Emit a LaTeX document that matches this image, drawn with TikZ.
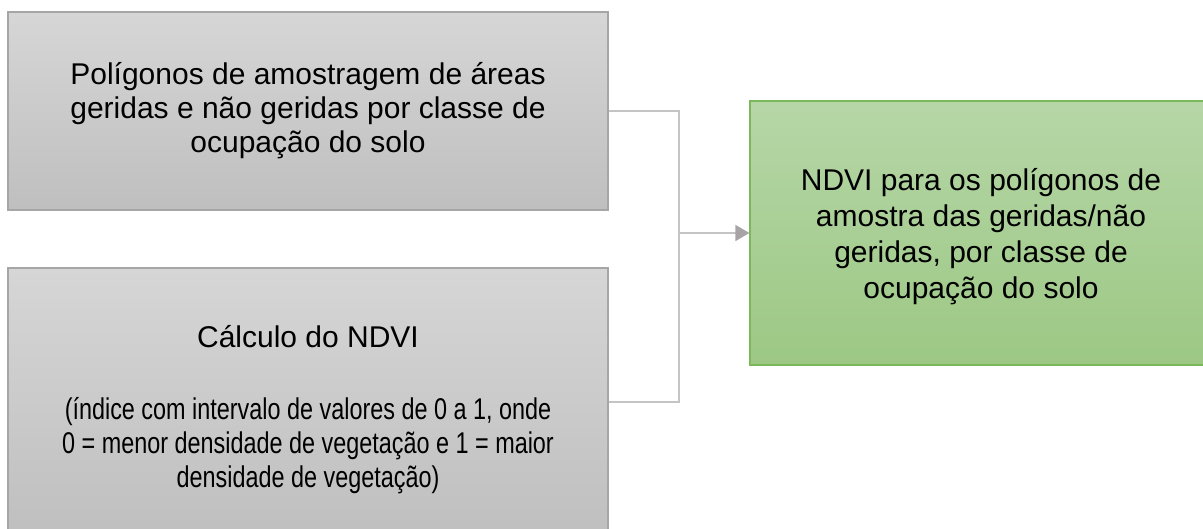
\documentclass[tikz,border=0pt]{standalone}
\usepackage{fontspec}
\setmainfont{Liberation Sans}
\newfontfamily\condfont[FakeStretch=0.78]{Liberation Sans}
\usetikzlibrary{arrows.meta}
\definecolor{grayTop}{HTML}{D6D6D6}
\definecolor{grayBot}{HTML}{BFBFBF}
\definecolor{grayEdge}{HTML}{A6A6A6}
\definecolor{greenTop}{HTML}{B6D6A7}
\definecolor{greenBot}{HTML}{9CC884}
\definecolor{greenEdge}{HTML}{7CB75B}
\definecolor{lineCol}{HTML}{C4C4C4}
\definecolor{tipCol}{HTML}{A8A4A6}
\tikzset{
  box/.style={rectangle, draw=grayEdge, line width=1.2pt, top color=grayTop, bottom color=grayBot,
    inner sep=0pt, align=center, font=\fontsize{30}{34}\selectfont, text=black},
  gbox/.style={box, draw=greenEdge, top color=greenTop, bottom color=greenBot},
  txt/.style={align=center, inner sep=0pt, text=black},
  conn/.style={draw=lineCol, line width=1.5pt},
}
\begin{document}
\begin{tikzpicture}[x=1pt,y=-1pt]
\useasboundingbox (0,0) rectangle (1203,529);
\clip (0,0) rectangle (1203,529);
\node[box, minimum width=600pt, minimum height=198pt] (b1) at (308,111)
  {Polígonos de amostragem de áreas\\geridas e não geridas por classe de\\ocupação do solo};
\node[box, minimum width=600pt, minimum height=268pt] (b2) at (308,402) {};
\node[txt, font=\fontsize{30}{34}\selectfont] (b2t) at (308,410)
  {Cálculo do NDVI\\[38pt]{\condfont (índice com intervalo de valores de 0 a 1, onde}\\{\condfont 0 = menor densidade de vegetação e 1 = maior}\\{\condfont densidade de vegetação)}};
\node[gbox, minimum width=462pt, minimum height=264pt] (g) at (981,233) {};
\node[txt, font=\fontsize{30}{36}\selectfont] (gt) at (981,237)
  {NDVI para os polígonos de\\amostra das geridas/não\\geridas, por classe de\\ocupação do solo};
\coordinate (j) at (679,233);
\draw[conn] (b1.east) -| (j);
\draw[conn] (b2.east) -| (j);
\draw[conn, -{Triangle[length=14pt, width=16pt, fill=tipCol, color=tipCol]}] (j) -- (g.west);
\end{tikzpicture}
\end{document}
